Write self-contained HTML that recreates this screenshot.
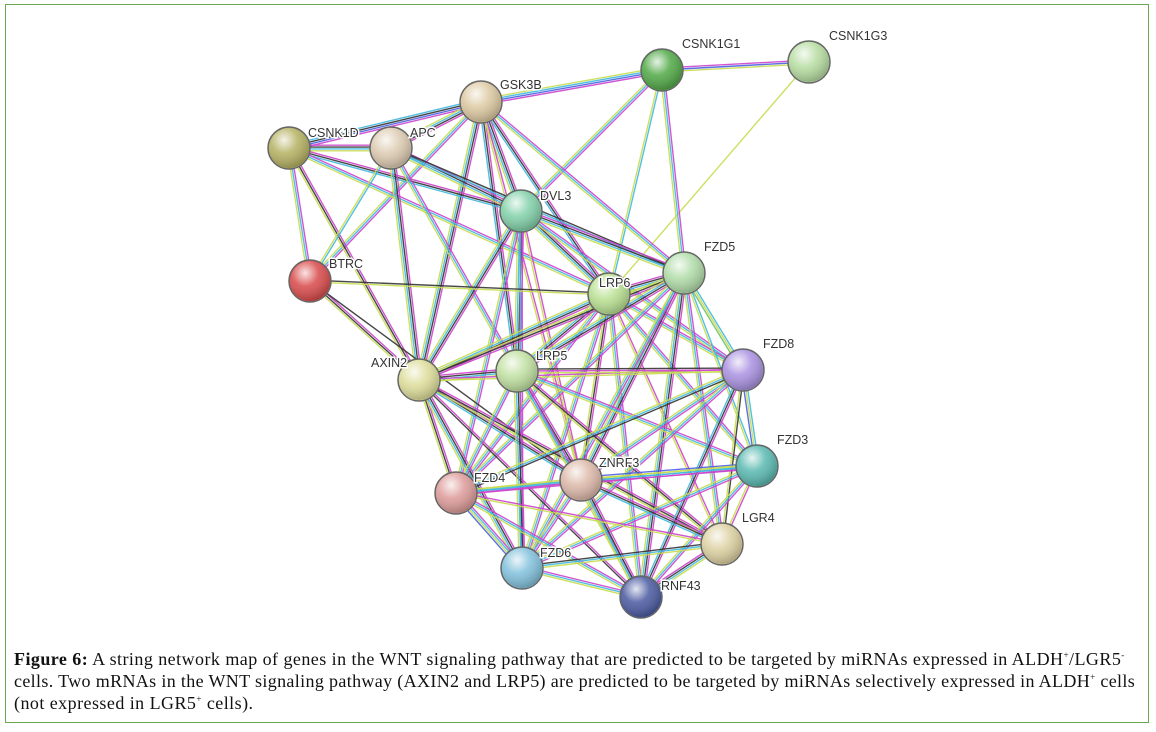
<!DOCTYPE html>
<html><head><meta charset="utf-8">
<style>
html,body{margin:0;padding:0;background:#fff;}
#wrap{position:relative;width:1156px;height:732px;overflow:hidden;background:#fff;}
#frame{position:absolute;left:5px;top:4px;width:1144px;height:719px;border:1px solid #6aa84f;box-sizing:border-box;}
svg{position:absolute;left:0;top:0;}
#cap{position:absolute;left:14px;top:648px;white-space:nowrap;font-family:"Liberation Serif",serif;font-size:18px;line-height:22px;color:#111;letter-spacing:0.45px;}
sup{font-size:9px;line-height:0;}
</style></head><body>
<div id="wrap">
<div id="frame"></div>
<svg id="g" width="1156" height="640" viewBox="0 0 1156 640">
<defs>
<radialGradient id="shine" cx="0.38" cy="0.3" r="0.75">
<stop offset="0" stop-color="#fff" stop-opacity="0.85"/>
<stop offset="0.45" stop-color="#fff" stop-opacity="0.15"/>
<stop offset="1" stop-color="#000" stop-opacity="0.25"/>
</radialGradient>
</defs>
<g id="edges"></g><g id="nodes"></g>
</svg>
<div id="cap"><b>Figure 6:</b> A string network map of genes in the WNT signaling pathway that are predicted to be targeted by miRNAs expressed in ALDH<sup>+</sup>/LGR5<sup>-</sup><br><span style="letter-spacing:0.35px">cells. Two mRNAs in the WNT signaling pathway (AXIN2 and LRP5) are predicted to be targeted by miRNAs selectively expressed in ALDH<sup>+</sup> cells</span><br>(not expressed in LGR5<sup>+</sup> cells).</div>
</div>
<script>
var N={
CSNK1G1:[662,70,"#4fa845"],CSNK1G3:[809,62,"#b5dca0"],GSK3B:[481,102,"#dcc8a0"],
CSNK1D:[289,148,"#b4b060"],APC:[391,148,"#dccab0"],DVL3:[521,211,"#80d0a8"],
BTRC:[310,281,"#d84848"],LRP6:[609,294,"#b8e090"],FZD5:[684,273,"#b0dca8"],
FZD8:[743,370,"#a890e0"],AXIN2:[419,380,"#dcdc98"],LRP5:[517,371,"#c0e0a0"],
FZD3:[757,466,"#58b8b0"],ZNRF3:[581,480,"#dcb8a8"],FZD4:[456,493,"#dc9a98"],
LGR4:[722,544,"#dcd0a0"],FZD6:[522,568,"#80c0dc"],RNF43:[641,597,"#4858a0"]};
var C=["#cc44cc","#333","#c8dc50","#40b8e0","#4860e0","#70c060"];
var E=[
["CSNK1G1","CSNK1G3",[0,4,2]],["CSNK1G3","LRP6",[2]],["CSNK1G1","GSK3B",[0,4,3,2]],
["CSNK1G1","DVL3",[0,3,2]],["CSNK1G1","LRP6",[3,2]],["CSNK1G1","FZD5",[0,3,2]],
["GSK3B","CSNK1D",[0,4,1,3]],["GSK3B","APC",[0,1,3,2]],["GSK3B","DVL3",[0,1,3,2]],
["GSK3B","LRP6",[0,1,3]],["GSK3B","FZD5",[0,3,2]],["GSK3B","AXIN2",[0,1,3,2]],
["GSK3B","LRP5",[0,1,3]],["GSK3B","BTRC",[0,3,2]],["GSK3B","ZNRF3",[0,2]],
["CSNK1D","APC",[0,1,3,2]],["CSNK1D","DVL3",[0,1,3]],["CSNK1D","BTRC",[0,3,2]],
["CSNK1D","AXIN2",[0,1,2]],["CSNK1D","LRP6",[0,3,2]],
["APC","DVL3",[0,1,3,2]],["APC","AXIN2",[0,1,3,2]],["APC","BTRC",[3,2]],["APC","LRP5",[0,3,2]],["APC","FZD5",[1,3]],
["DVL3","LRP6",[0,1,3,2]],["DVL3","FZD5",[0,1,3,2]],["DVL3","AXIN2",[0,1,3,2]],["DVL3","LRP5",[0,1,3,2]],
["DVL3","FZD4",[0,3,2]],["DVL3","FZD6",[0,3]],["DVL3","FZD8",[0,3,2]],["DVL3","ZNRF3",[0,2]],
["BTRC","AXIN2",[0,1,2]],["BTRC","LRP6",[1,2]],["BTRC","ZNRF3",[1]],
["LRP6","FZD5",[0,1,3,2]],["LRP6","AXIN2",[0,1,3,2]],["LRP6","LRP5",[0,1,3,2]],["LRP6","FZD8",[0,3,2]],
["LRP6","FZD4",[0,3,2]],["LRP6","FZD6",[0,3,2]],["LRP6","FZD3",[0,3,2]],["LRP6","ZNRF3",[0,1,2]],["LRP6","RNF43",[0,3,2]],["LRP6","LGR4",[0,2]],
["FZD5","FZD8",[3,2,5]],["FZD5","FZD3",[3,2]],["FZD5","AXIN2",[0,1,2]],["FZD5","LRP5",[0,1,3,2]],["FZD5","ZNRF3",[0,1,3,2]],
["FZD5","RNF43",[0,1,3,2]],["FZD5","LGR4",[0,3,2]],["FZD5","FZD4",[0,3,2]],["FZD5","FZD6",[0,3,2]],
["AXIN2","LRP5",[0,1,3,2]],["AXIN2","FZD4",[0,1,2]],["AXIN2","ZNRF3",[0,1,3]],["AXIN2","FZD6",[0,1,3,2]],["AXIN2","RNF43",[0,1]],["AXIN2","LGR4",[0,1,2]],["AXIN2","FZD8",[0,2]],
["LRP5","FZD8",[1,0,2]],["LRP5","FZD4",[0,3,2]],["LRP5","FZD6",[0,1,3,2]],["LRP5","ZNRF3",[0,1,3,2]],["LRP5","RNF43",[0,3,2]],["LRP5","FZD3",[0,3,2]],["LRP5","LGR4",[0,1,2]],
["FZD8","FZD3",[3,2,4]],["FZD8","ZNRF3",[0,3,2]],["FZD8","FZD4",[1,3,2]],["FZD8","FZD6",[0,3,2]],["FZD8","RNF43",[0,1,3]],["FZD8","LGR4",[1,2]],
["FZD3","ZNRF3",[0,3,2,4]],["FZD3","FZD4",[0,3,2]],["FZD3","FZD6",[0,3,2]],["FZD3","RNF43",[0,3,2]],["FZD3","LGR4",[0,2]],
["ZNRF3","FZD4",[0,3,2]],["ZNRF3","FZD6",[0,3,2]],["ZNRF3","RNF43",[0,1,3,2]],["ZNRF3","LGR4",[0,1,3]],
["FZD4","FZD6",[0,3,2,4]],["FZD4","RNF43",[0,3,2]],["FZD4","LGR4",[0,2]],
["FZD6","RNF43",[0,3,2]],["FZD6","LGR4",[1,3,2]],["RNF43","LGR4",[0,1,3,2]]];
var ns="http://www.w3.org/2000/svg",eg=document.getElementById("edges"),ng=document.getElementById("nodes");
E.forEach(function(e){var a=N[e[0]],b=N[e[1]],dx=b[0]-a[0],dy=b[1]-a[1],L=Math.hypot(dx,dy),px=-dy/L,py=dx/L,k=e[2].length;
e[2].forEach(function(c,i){var o=(i-(k-1)/2)*1.9;var l=document.createElementNS(ns,"line");
l.setAttribute("x1",a[0]+px*o);l.setAttribute("y1",a[1]+py*o);l.setAttribute("x2",b[0]+px*o);l.setAttribute("y2",b[1]+py*o);
l.setAttribute("stroke",C[c]);l.setAttribute("stroke-width","1.4");l.setAttribute("stroke-opacity","0.9");eg.appendChild(l);});});
for(var k in N){var n=N[k];
var c1=document.createElementNS(ns,"circle");c1.setAttribute("cx",n[0]);c1.setAttribute("cy",n[1]);c1.setAttribute("r",21);c1.setAttribute("fill",n[2]);c1.setAttribute("stroke","#666");c1.setAttribute("stroke-width","1.5");ng.appendChild(c1);
var c2=document.createElementNS(ns,"circle");c2.setAttribute("cx",n[0]);c2.setAttribute("cy",n[1]);c2.setAttribute("r",20);c2.setAttribute("fill","url(#shine)");ng.appendChild(c2);
var t=document.createElementNS(ns,"text");t.setAttribute("x",n[0]+20);t.setAttribute("y",n[1]-22);t.setAttribute("font-family","Liberation Sans, sans-serif");t.setAttribute("font-size","12.5");t.setAttribute("fill","#333");
var pos={AXIN2:[-48,-22],FZD4:[18,-20],LRP6:[-10,-16],ZNRF3:[18,-22],FZD6:[18,-20],RNF43:[20,-16],BTRC:[19,-22],LRP5:[19,-20],CSNK1D:[19,-20],APC:[19,-20],GSK3B:[19,-22],DVL3:[19,-20]};
if(pos[k]){t.setAttribute("x",n[0]+pos[k][0]);t.setAttribute("y",n[1]+pos[k][1]+9);}
t.setAttribute("stroke","#fff");t.setAttribute("stroke-width","3");t.setAttribute("paint-order","stroke");
t.textContent=k;ng.appendChild(t);}
</script>
</body></html>
